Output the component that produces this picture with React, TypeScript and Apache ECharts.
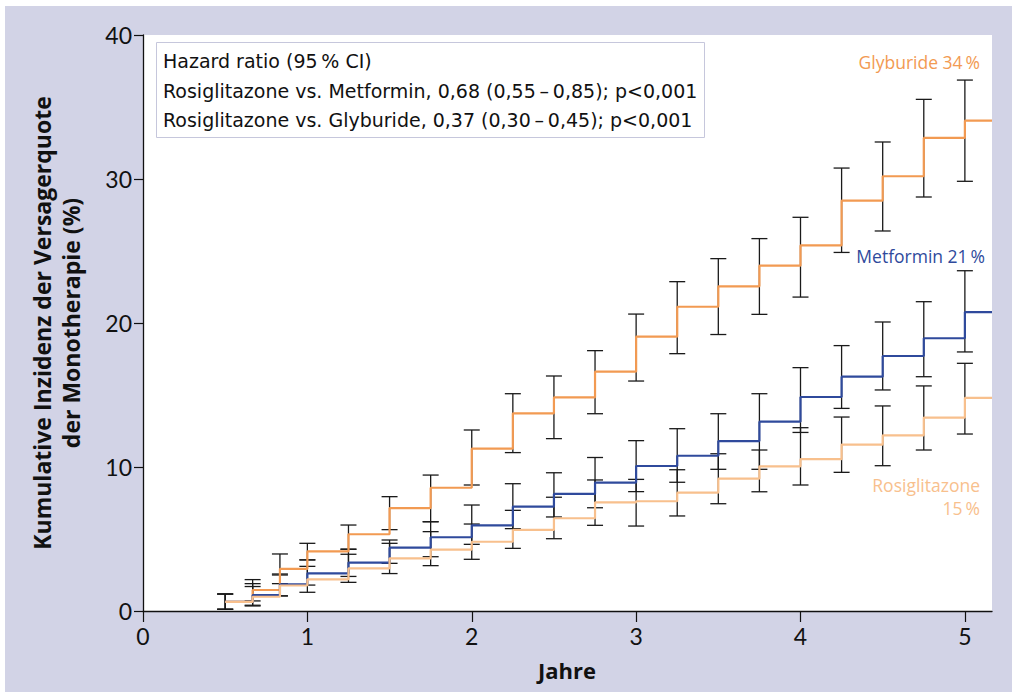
import React, { useEffect, useRef } from "react";
import * as echarts from "echarts";

const times = [0.5, 0.667, 0.833, 1, 1.25, 1.5, 1.75, 2, 2.25, 2.5, 2.75, 3, 3.25, 3.5, 3.75, 4, 4.25, 4.5, 4.75, 5];

const glyburide = [0.63, 1.46, 2.92, 4.14, 5.33, 7.15, 8.56, 11.27, 13.73, 14.83, 16.62, 19.05, 21.13, 22.55, 23.98, 25.39, 28.5, 30.19, 32.85, 34.05];
const glyburideLo = [0.12, 0.7, 1.9, 3.55, 4.3, 5.65, 6.2, 8.75, 11.0, 11.97, 13.7, 15.97, 17.87, 19.2, 20.6, 21.8, 24.9, 26.39, 28.75, 29.84];
const glyburideHi = [1.18, 2.18, 3.96, 4.7, 5.97, 7.94, 9.44, 12.57, 15.09, 16.32, 18.08, 20.62, 22.87, 24.47, 25.86, 27.34, 30.76, 32.57, 35.53, 36.87];

const metformin = [0.63, 1.1, 1.85, 2.61, 3.36, 4.4, 5.12, 5.95, 7.25, 8.13, 8.92, 10.07, 10.78, 11.8, 13.15, 14.86, 16.27, 17.71, 18.94, 20.76];
const metforminLo = [0.12, 0.4, 1.05, 1.8, 2.4, 3.31, 3.77, 4.63, 5.72, 6.53, 7.17, 8.29, 8.94, 9.84, 9.84, 12.4, 14.07, 15.35, 16.27, 17.99];
const metforminHi = [1.18, 1.9, 2.57, 3.55, 4.28, 4.93, 6.2, 7.36, 8.84, 9.6, 10.66, 11.83, 12.66, 13.7, 15.09, 16.9, 18.43, 20.07, 21.48, 23.63];

const rosiglitazone = [0.63, 0.99, 1.77, 2.2, 2.96, 3.66, 4.26, 4.81, 5.63, 6.44, 7.55, 7.62, 8.22, 9.19, 10.05, 10.54, 11.56, 12.2, 13.43, 14.8];
const rosiglitazoneLo = [0.12, 0.35, 1.05, 1.3, 1.99, 2.6, 3.15, 3.59, 4.35, 5.02, 5.95, 5.9, 6.6, 7.45, 8.28, 8.75, 9.63, 10.09, 11.18, 12.29];
const rosiglitazoneHi = [1.18, 1.7, 2.5, 3.1, 3.94, 4.7, 5.51, 6.04, 6.99, 7.9, 9.1, 9.14, 9.81, 10.92, 11.18, 12.73, 13.47, 14.24, 15.63, 17.2];

const xTicks = [0, 1, 2, 3, 4, 5];
const xMax = 5.165;

const legendLines = [
  "Hazard ratio (95\u2009% CI)",
  "Rosiglitazone vs. Metformin, 0,68 (0,55\u2009\u2013\u20090,85); p<0,001",
  "Rosiglitazone vs. Glyburide, 0,37 (0,30\u2009\u2013\u20090,45); p<0,001",
];

const C_GLY = "#f29a52";
const C_MET = "#2f4a9c";
const C_ROS = "#f8c08d";
const FONT = "Open Sans";
const LEGFONT = "DejaVu Sans";
const TICKFONT = "Lato";

function stepData(vals: number[]) {
  const d = times.map((t, i) => [t, vals[i]]);
  d.push([xMax, vals[vals.length - 1]]);
  return d;
}
function ciData(lo: number[], hi: number[]) {
  return times.map((t, i) => [t, lo[i], hi[i]]);
}

function errRender(params: any, api: any) {
  const x = api.value(0);
  const pLo = api.coord([x, api.value(1)]);
  const pHi = api.coord([x, api.value(2)]);
  const hw = 8;
  const st = { stroke: "#1a1a1a", lineWidth: 1.3 };
  return {
    type: "group",
    children: [
      { type: "line", shape: { x1: pLo[0], y1: pLo[1], x2: pHi[0], y2: pHi[1] }, style: st },
      { type: "line", shape: { x1: pLo[0] - hw, y1: pLo[1], x2: pLo[0] + hw, y2: pLo[1] }, style: st },
      { type: "line", shape: { x1: pHi[0] - hw, y1: pHi[1], x2: pHi[0] + hw, y2: pHi[1] }, style: st },
    ],
  };
}

export default function App() {
  const ref = useRef<HTMLDivElement>(null);
  useEffect(() => {
    const chart = echarts.init(ref.current!, null, { renderer: "svg" });
    const errSeries = (lo: number[], hi: number[]) => ({
      type: "custom",
      renderItem: errRender,
      data: ciData(lo, hi),
      encode: { x: 0, y: [1, 2] },
      z: 2,
      silent: true,
    });
    const lineSeries = (name: string, vals: number[], color: string, z: number) => ({
      name,
      type: "line",
      step: "end",
      data: stepData(vals),
      showSymbol: false,
      lineStyle: { color, width: 2.2 },
      z,
      silent: true,
    });
    chart.setOption({
      animation: false,
      backgroundColor: "#ffffff",
      grid: { left: 143, top: 35, width: 849, height: 576, show: true, backgroundColor: "#ffffff", borderWidth: 0 },
      xAxis: {
        type: "value",
        min: 0,
        max: xMax,
        interval: 1,
        splitLine: { show: false },
        axisLine: { lineStyle: { color: "#111", width: 1.3 } },
        axisTick: { show: true, length: 11, customValues: xTicks, lineStyle: { color: "#111", width: 1.2 } },
        axisLabel: {
          customValues: xTicks,
          color: "#111",
          fontSize: 23,
          fontFamily: TICKFONT,
          margin: 13,
          formatter: (v: number) => (Number.isInteger(v) ? String(v) : ""),
        },
      },
      yAxis: {
        type: "value",
        min: 0,
        max: 40,
        interval: 10,
        splitLine: { show: false },
        axisLine: { show: true, lineStyle: { color: "#111", width: 1.3 } },
        axisTick: { show: true, length: 9, lineStyle: { color: "#111", width: 1.2 } },
        axisLabel: { color: "#111", fontSize: 23, fontFamily: TICKFONT, margin: 11 },
      },
      graphic: [
        { type: "rect", z: -10, shape: { x: 5, y: 6, width: 1012, height: 692 }, style: { fill: "#d2d3e6" } },
        {
          type: "rect",
          z: 10,
          shape: { x: 156.5, y: 42.5, width: 548, height: 95 },
          style: { fill: "#ffffff", stroke: "#c6c7dc", lineWidth: 1 },
        },
        ...legendLines.map((t, i) => ({
          type: "text",
          z: 11,
          x: 163,
          y: 61 + i * 29.5,
          style: { text: t, fill: "#111", fontSize: 19, fontFamily: LEGFONT, textAlign: "left", textVerticalAlign: "middle" },
        })),
        {
          type: "text", z: 11, x: 980, y: 62,
          style: { text: "Glyburide 34\u2009%", fill: C_GLY, fontSize: 17.5, fontFamily: FONT, textAlign: "right", textVerticalAlign: "middle" },
        },
        {
          type: "text", z: 11, x: 985, y: 256,
          style: { text: "Metformin 21\u2009%", fill: C_MET, fontSize: 17.5, fontFamily: FONT, textAlign: "right", textVerticalAlign: "middle" },
        },
        {
          type: "text", z: 11, x: 980, y: 485,
          style: { text: "Rosiglitazone", fill: C_ROS, fontSize: 17.5, fontFamily: FONT, textAlign: "right", textVerticalAlign: "middle" },
        },
        {
          type: "text", z: 11, x: 980, y: 508,
          style: { text: "15\u2009%", fill: C_ROS, fontSize: 17.5, fontFamily: FONT, textAlign: "right", textVerticalAlign: "middle" },
        },
        {
          type: "text", z: 11, x: 567, y: 670,
          style: { text: "Jahre", fill: "#111", fontSize: 22, fontWeight: "bold", fontFamily: FONT, textAlign: "center", textVerticalAlign: "middle" },
        },
        {
          type: "text", z: 11, x: 42, y: 323, rotation: Math.PI / 2,
          style: { text: "Kumulative Inzidenz der Versagerquote", fill: "#111", fontSize: 23, fontWeight: "bold", fontFamily: FONT, textAlign: "center", textVerticalAlign: "middle" },
        },
        {
          type: "text", z: 11, x: 71, y: 323, rotation: Math.PI / 2,
          style: { text: "der Monotherapie (%)", fill: "#111", fontSize: 23, fontWeight: "bold", fontFamily: FONT, textAlign: "center", textVerticalAlign: "middle" },
        },
      ],
      series: [
        errSeries(glyburideLo, glyburideHi),
        errSeries(metforminLo, metforminHi),
        errSeries(rosiglitazoneLo, rosiglitazoneHi),
        lineSeries("Glyburide", glyburide, C_GLY, 3),
        lineSeries("Metformin", metformin, C_MET, 4),
        lineSeries("Rosiglitazone", rosiglitazone, C_ROS, 5),
      ],
    });
    return () => chart.dispose();
  }, []);
  return <div ref={ref} style={{ position: "absolute", left: 0, top: 0, width: 1012, height: 692 }} />;
}
